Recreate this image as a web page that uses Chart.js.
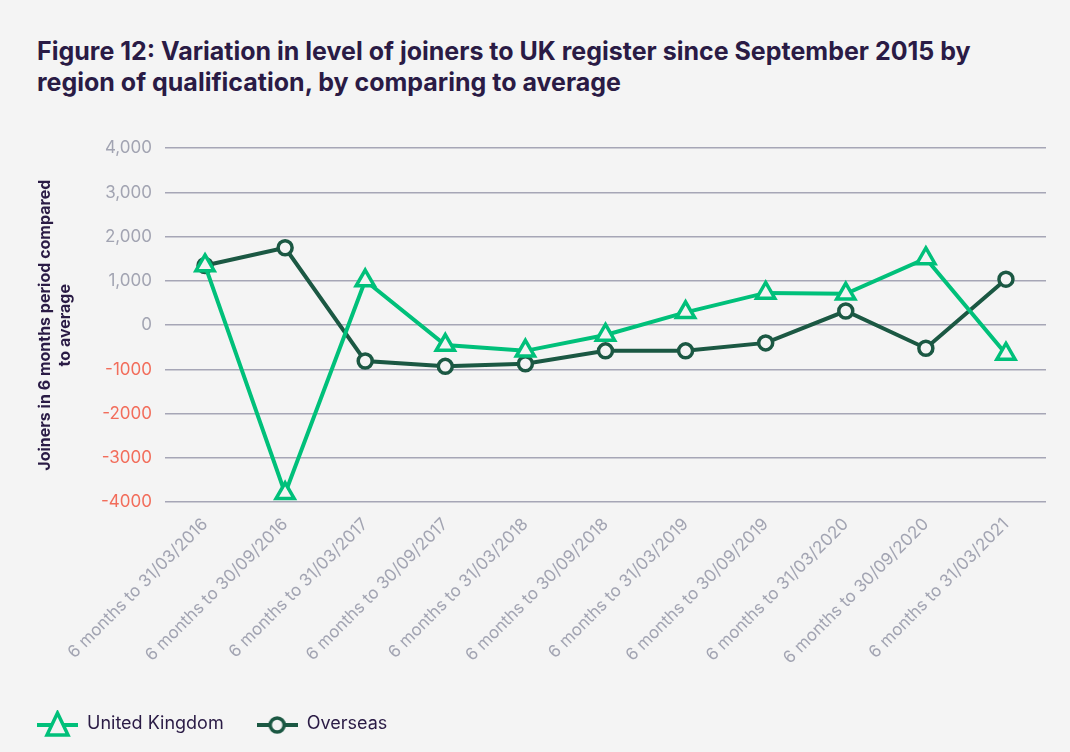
<!DOCTYPE html>
<html lang="en">
<head>
<meta charset="UTF-8">
<title>Figure 12: Variation in level of joiners to UK register</title>
<script src="https://cdn.jsdelivr.net/npm/chart.js"></script>
<style>
body {
    margin: 0;
    background: #f4f4f4;
    font-family: Inter, "Noto Sans", sans-serif;
}
.title {
    position: absolute;
    left: 37px;
    top: 36px;
    margin: 0;
    font-size: 25px;
    line-height: 31px;
    font-weight: 700;
    color: #2a1b45;
}
.chart-box {
    position: absolute;
    left: 0;
    top: 125px;
    width: 1070px;
    height: 627px;
}
</style>
</head>
<body>
<h1 class="title">Figure 12: Variation in level of joiners to UK register since September 2015 by<br>region of qualification, by comparing to average</h1>
<div class="chart-box"><canvas id="chart"></canvas></div>
<script>
const periods = [
    '6 months to 31/03/2016', '6 months to 30/09/2016', '6 months to 31/03/2017',
    '6 months to 30/09/2017', '6 months to 31/03/2018', '6 months to 30/09/2018',
    '6 months to 31/03/2019', '6 months to 30/09/2019', '6 months to 31/03/2020',
    '6 months to 30/09/2020', '6 months to 31/03/2021'
];
const ukValues = [1350, -3800, 1010, -450, -580, -220, 290, 730, 710, 1510, -650];
const overseasValues = [1350, 1750, -810, -930, -870, -580, -580, -400, 320, -520, 1040];
const yMin = -4000;
const yMax = 4000;
const yStep = 1000;

const ukColor = '#00c07a';
const overseasColor = '#1b5843';
const bg = '#f4f4f4';
const ink = '#2a1b45';

// legend swatch: short line with the marker in the middle
function legendIcon(color, shape) {
    const c = document.createElement('canvas');
    c.width = 41; c.height = 28;
    const g = c.getContext('2d');
    g.strokeStyle = color;
    g.lineWidth = 4;
    g.beginPath(); g.moveTo(0, 15); g.lineTo(41, 15); g.stroke();
    g.fillStyle = bg;
    g.lineWidth = 3.5;
    g.beginPath();
    if (shape === 'triangle') {
        g.moveTo(20.5, 3); g.lineTo(31, 25); g.lineTo(10, 25); g.closePath();
    } else {
        g.arc(20.5, 15, 7, 0, Math.PI * 2);
    }
    g.fill(); g.stroke();
    return c;
}

const icons = [legendIcon(ukColor, 'triangle'), legendIcon(overseasColor, 'circle')];

new Chart(document.getElementById('chart'), {
    type: 'line',
    data: {
        labels: periods,
        datasets: [{
            label: 'United Kingdom',
            data: ukValues,
            borderColor: ukColor,
            backgroundColor: bg,
            borderWidth: 4,
            pointStyle: 'triangle',
            pointRadius: 10.5,
            pointBorderWidth: 3.5,
            tension: 0
        }, {
            label: 'Overseas',
            data: overseasValues,
            borderColor: overseasColor,
            backgroundColor: bg,
            borderWidth: 4,
            pointStyle: 'circle',
            pointRadius: 7,
            pointBorderWidth: 3.5,
            tension: 0
        }]
    },
    options: {
        responsive: true,
        maintainAspectRatio: false,
        animation: false,
        layout: { padding: { left: 4, right: 24, top: 10, bottom: 9 } },
        plugins: {
            tooltip: { enabled: false },
            legend: {
                position: 'bottom',
                align: 'start',
                labels: {
                    color: ink,
                    font: { family: 'Inter', size: 18 },
                    usePointStyle: true,
                    pointStyleWidth: 41,
                    padding: 33,
                    generateLabels: chart => chart.data.datasets.map((ds, i) => ({
                        text: ds.label,
                        pointStyle: icons[i],
                        fontColor: ink,
                        datasetIndex: i,
                        hidden: false,
                        lineWidth: 0
                    }))
                }
            }
        },
        scales: {
            x: {
                offset: true,
                grid: { display: false },
                border: { display: false },
                ticks: {
                    color: '#a2a4b2',
                    font: { family: 'Inter', size: 17 },
                    minRotation: 45,
                    maxRotation: 45,
                    padding: 4
                },
                // blank title only used as a spacer above the legend
                title: {
                    display: true,
                    text: ' ',
                    font: { size: 1, lineHeight: 1 },
                    padding: { top: 9, bottom: 0 }
                }
            },
            y: {
                min: yMin,
                max: yMax,
                border: { display: false },
                grid: { color: '#a6a6b6', lineWidth: 1.5, drawTicks: false },
                ticks: {
                    stepSize: yStep,
                    padding: 13,
                    font: { family: 'Inter', size: 17 },
                    color: ctx => ctx.tick.value < 0 ? '#f26d5b' : '#a2a4b2',
                    callback: v => v < 0 ? String(v) : v.toLocaleString('en-GB')
                },
                title: {
                    display: true,
                    text: ['Joiners in 6 months period compared', 'to average'],
                    color: ink,
                    font: { family: 'Inter', size: 16, weight: 'bold', lineHeight: 1.25 },
                    padding: { top: 31, bottom: 13 }
                }
            }
        }
    }
});
</script>
</body>
</html>
